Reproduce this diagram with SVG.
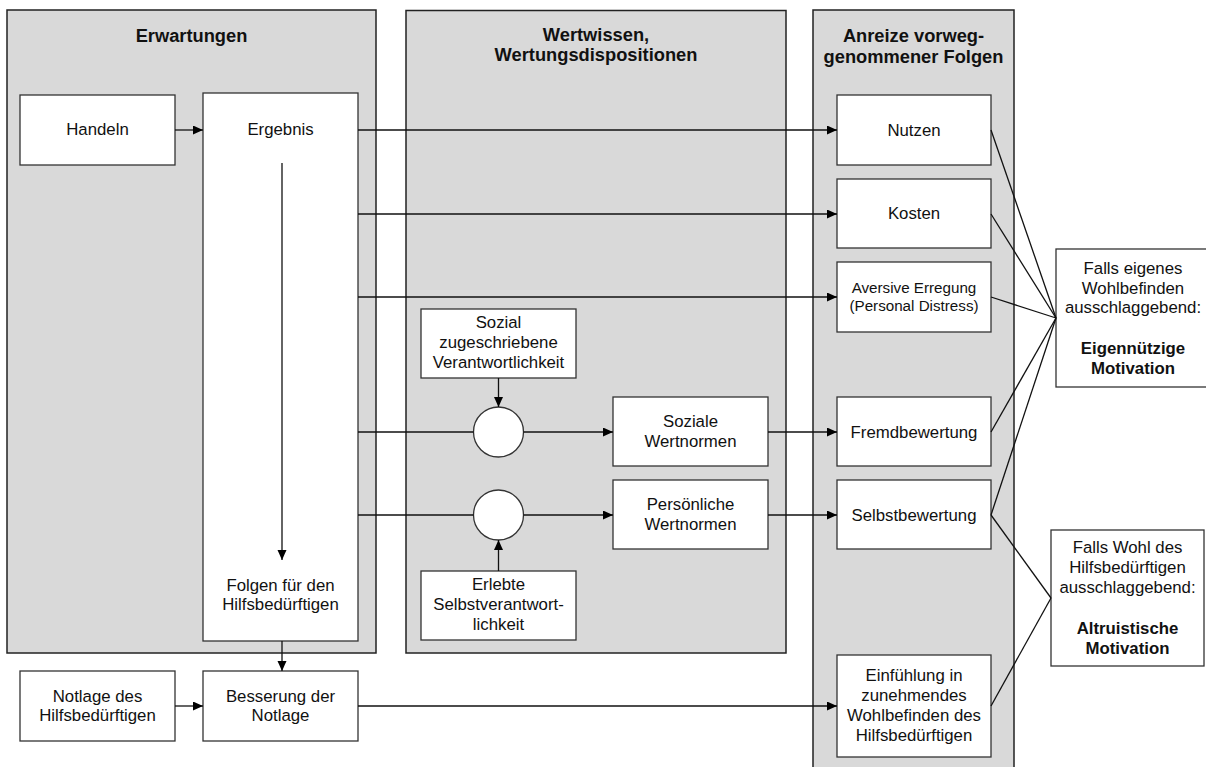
<svg xmlns="http://www.w3.org/2000/svg" width="1206" height="767" viewBox="0 0 1206 767">
<style>
.panel{fill:#d9d9d9;stroke:#222;stroke-width:1.5}
.box{fill:#fff;stroke:#333;stroke-width:1.3}
.ln{fill:none;stroke:#111;stroke-width:1.3}
.arr{marker-end:url(#ah)}
text{font-family:"Liberation Sans",Arial,sans-serif;font-size:16.8px;fill:#111;text-anchor:middle}
.title{font-size:18.3px;font-weight:bold}
.b{font-weight:bold}
.sm{font-size:15.2px}
</style>
<defs>
<marker id="ah" markerUnits="userSpaceOnUse" markerWidth="11" markerHeight="10" refX="10" refY="4.5" orient="auto">
<path d="M0,0 L10,4.5 L0,9 z" fill="#000"/>
</marker>
</defs>
<rect width="1206" height="767" fill="#fff"/>
<g id="panel-erwartungen">
<rect class="panel" x="7" y="10" width="369" height="643"/>
<text class="title" x="191.5" y="42">Erwartungen</text>
</g>
<g id="panel-wertwissen">
<rect class="panel" x="406" y="10.5" width="380" height="642.5"/>
<text class="title" x="596" y="41">Wertwissen,</text>
<text class="title" x="596" y="61">Wertungsdispositionen</text>
</g>
<g id="panel-anreize">
<rect class="panel" x="813" y="10" width="201" height="770"/>
<text class="title" x="913.5" y="42">Anreize vorweg-</text>
<text class="title" x="913.5" y="63">genommener Folgen</text>
</g>
<g id="handeln">
<rect class="box" x="20" y="95" width="155" height="70"/>
<text x="97.5" y="135">Handeln</text>
</g>
<g id="ergebnis">
<rect class="box" x="203" y="93" width="155" height="548"/>
<text x="280.5" y="135">Ergebnis</text>
<text x="280.5" y="591">Folgen für den</text>
<text x="280.5" y="610">Hilfsbedürftigen</text>
</g>
<g id="notlage">
<rect class="box" x="20" y="671" width="155" height="70"/>
<text x="97.5" y="702">Notlage des</text>
<text x="97.5" y="721">Hilfsbedürftigen</text>
</g>
<g id="besserung">
<rect class="box" x="203" y="671" width="155" height="70"/>
<text x="280.5" y="702">Besserung der</text>
<text x="280.5" y="721">Notlage</text>
</g>
<g id="sozial-verantwortlichkeit">
<rect class="box" x="421" y="309" width="155" height="69"/>
<text x="498.5" y="328">Sozial</text>
<text x="498.5" y="348">zugeschriebene</text>
<text x="498.5" y="368">Verantwortlichkeit</text>
</g>
<g id="circle-sozial">
<circle class="box" cx="498.5" cy="432" r="25"/>
</g>
<g id="circle-persoenlich">
<circle class="box" cx="498.5" cy="515" r="25"/>
</g>
<g id="erlebte">
<rect class="box" x="421" y="571" width="155" height="69"/>
<text x="498.5" y="590">Erlebte</text>
<text x="498.5" y="610">Selbstverantwort-</text>
<text x="498.5" y="630">lichkeit</text>
</g>
<g id="soziale-wertnormen">
<rect class="box" x="613" y="397" width="155" height="69"/>
<text x="690.5" y="427">Soziale</text>
<text x="690.5" y="447">Wertnormen</text>
</g>
<g id="persoenliche-wertnormen">
<rect class="box" x="613" y="480" width="155" height="69"/>
<text x="690.5" y="510">Persönliche</text>
<text x="690.5" y="530">Wertnormen</text>
</g>
<g id="nutzen">
<rect class="box" x="837" y="95" width="154" height="70"/>
<text x="914" y="136">Nutzen</text>
</g>
<g id="kosten">
<rect class="box" x="837" y="179" width="154" height="69"/>
<text x="914" y="219">Kosten</text>
</g>
<g id="aversive">
<rect class="box" x="837" y="262" width="154" height="70"/>
<text class="sm" x="914" y="293">Aversive Erregung</text>
<text class="sm" x="914" y="311">(Personal Distress)</text>
</g>
<g id="fremdbewertung">
<rect class="box" x="837" y="397" width="154" height="69"/>
<text x="914" y="438">Fremdbewertung</text>
</g>
<g id="selbstbewertung">
<rect class="box" x="837" y="480" width="154" height="69"/>
<text x="914" y="521">Selbstbewertung</text>
</g>
<g id="einfuehlung">
<rect class="box" x="837" y="655" width="154" height="102"/>
<text x="914" y="681">Einfühlung in</text>
<text x="914" y="701">zunehmendes</text>
<text x="914" y="721">Wohlbefinden des</text>
<text x="914" y="741">Hilfsbedürftigen</text>
</g>
<g id="eigennuetzig">
<rect class="box" x="1056" y="249" width="156" height="138"/>
<text x="1133" y="274">Falls eigenes</text>
<text x="1133" y="293.5">Wohlbefinden</text>
<text x="1133" y="313">ausschlaggebend:</text>
<text class="b" x="1133" y="354">Eigennützige</text>
<text class="b" x="1133" y="374">Motivation</text>
</g>
<g id="altruistisch">
<rect class="box" x="1051" y="530" width="153" height="136"/>
<text x="1127.5" y="553">Falls Wohl des</text>
<text x="1127.5" y="573">Hilfsbedürftigen</text>
<text x="1127.5" y="593">ausschlaggebend:</text>
<text class="b" x="1127.5" y="634">Altruistische</text>
<text class="b" x="1127.5" y="654">Motivation</text>
</g>
<g id="connectors">
<line class="ln arr" x1="175" y1="130" x2="203" y2="130"/>
<line class="ln arr" x1="358" y1="130" x2="837" y2="130"/>
<line class="ln arr" x1="358" y1="214" x2="837" y2="214"/>
<line class="ln arr" x1="358" y1="297" x2="837" y2="297"/>
<line class="ln arr" x1="282" y1="163" x2="282" y2="560"/>
<line class="ln arr" x1="282" y1="641" x2="282" y2="671"/>
<line class="ln arr" x1="175" y1="706" x2="203" y2="706"/>
<line class="ln arr" x1="358" y1="706" x2="837" y2="706"/>
<line class="ln" x1="358" y1="432" x2="473.5" y2="432"/>
<line class="ln" x1="358" y1="515" x2="473.5" y2="515"/>
<line class="ln arr" x1="498.5" y1="378" x2="498.5" y2="407"/>
<line class="ln arr" x1="498.5" y1="571" x2="498.5" y2="540"/>
<line class="ln arr" x1="523.5" y1="432" x2="613" y2="432"/>
<line class="ln arr" x1="523.5" y1="515" x2="613" y2="515"/>
<line class="ln arr" x1="768" y1="432" x2="837" y2="432"/>
<line class="ln arr" x1="768" y1="515" x2="837" y2="515"/>
<line class="ln" x1="991" y1="130" x2="1056" y2="318"/>
<line class="ln" x1="991" y1="214" x2="1056" y2="318"/>
<line class="ln" x1="991" y1="297" x2="1056" y2="318"/>
<line class="ln" x1="991" y1="432" x2="1056" y2="318"/>
<line class="ln" x1="991" y1="515" x2="1056" y2="318"/>
<line class="ln" x1="991" y1="515" x2="1051" y2="598"/>
<line class="ln" x1="991" y1="706" x2="1051" y2="598"/>
</g>
</svg>
